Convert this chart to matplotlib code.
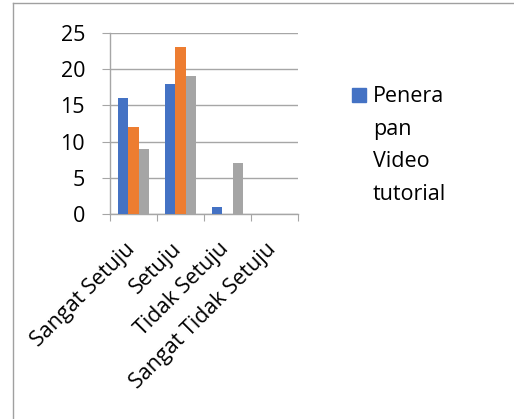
import matplotlib
matplotlib.use("Agg")
import matplotlib.pyplot as plt
from matplotlib.lines import Line2D
from matplotlib.patches import Rectangle
import numpy as np

categories = ["Sangat Setuju", "Setuju", "Tidak Setuju", "Sangat Tidak Setuju"]
series_1 = [16, 18, 1, 0]
series_2 = [12, 23, 0, 0]
series_3 = [9, 19, 7, 0]
legend_lines = ["Penera", "pan", "Video", "tutorial"]
y_ticks = [0, 5, 10, 15, 20, 25]

colors = ["#4472C4", "#ED7D31", "#A5A5A5"]
grid_col = "#A6A6A6"
W, H = 514, 419
FS = 15.5

plt.rcParams["font.family"] = ["Open Sans", "DejaVu Sans"]
fig = plt.figure(figsize=(W / 100, H / 100), dpi=100)
fig.patch.set_facecolor("white")

ax = fig.add_axes([110 / W, 1 - 214 / H, (298 - 110) / W, (214 - 33) / H])
x = np.arange(len(categories)) + 0.5
bw = 0.22
for i, (vals, c) in enumerate(zip([series_1, series_2, series_3], colors)):
    ax.bar(x + (i - 1) * bw, vals, width=bw, color=c, zorder=3)

ax.set_xlim(0, len(categories))
ax.set_ylim(0, 25)
ax.set_yticks(y_ticks)
ax.set_xticks(np.arange(len(categories) + 1))
ax.set_xticklabels([])
ax.yaxis.grid(True, color=grid_col, linewidth=1, zorder=0)
for s in ["top", "right"]:
    ax.spines[s].set_visible(False)
for s in ["left", "bottom"]:
    ax.spines[s].set_color(grid_col)
    ax.spines[s].set_linewidth(1)
ax.tick_params(axis="y", length=6, color=grid_col, labelsize=FS, pad=12)
ax.tick_params(axis="x", length=5, color=grid_col)

# rotated category labels under each group
for xi, lab in zip(x, categories):
    ax.annotate(lab, xy=(xi, 0), xycoords=("data", "axes fraction"),
                xytext=(-1.5, -23), textcoords="offset points",
                rotation=45, ha="right", va="center", rotation_mode="anchor",
                fontsize=FS)

# legend entry
fig.add_artist(Rectangle((352 / W, 1 - 102 / H), 14 / W, 14 / H,
                         transform=fig.transFigure, color=colors[0]))
for k, line in enumerate(legend_lines):
    fig.text(373 / W, 1 - (102 + 32.7 * k) / H, line, fontsize=FS,
             va="baseline", ha="left")

# chart border
fig.add_artist(Line2D([12.5 / W, 12.5 / W], [0, 1 - 3.5 / H],
                      transform=fig.transFigure, color="#A0A0A0", linewidth=1))
fig.add_artist(Line2D([12.5 / W, 1], [1 - 3.5 / H, 1 - 3.5 / H],
                      transform=fig.transFigure, color="#A0A0A0", linewidth=1))

fig.savefig("out.png", dpi=100)
